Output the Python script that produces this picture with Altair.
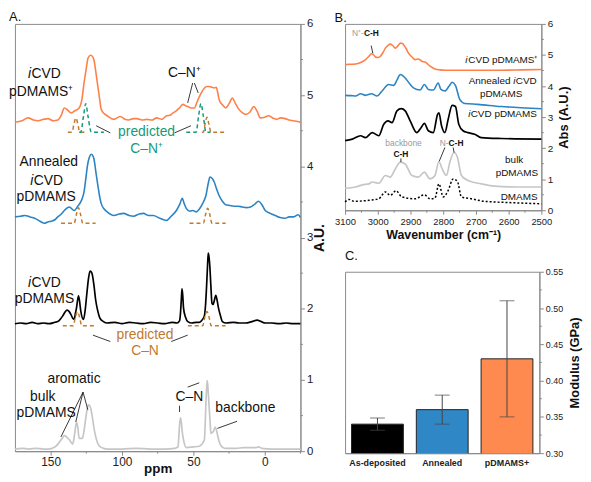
import altair as alt
import pandas as pd

FONT = "Liberation Sans"
AX = "#8a8a8a"
LBL = "#222222"

ORANGE = "#ff8048"
BLUE = "#2b85c4"
GRAYL = "#c6c6c6"
GREEN = "#169a78"
BROWN = "#c27a2c"

# ---------------- Panel A : NMR spectra (ppm, A.U.) ----------------
A_OR_PPM = [175, 170, 165.8, 162, 158.8, 155, 151.9, 148, 145, 142.5, 140.4, 138, 135.8, 133, 130, 128, 126.6, 125, 123.8,
            121.9, 120.6, 119.6, 118.3, 116.9, 115.7, 114.6, 112.5, 110.4, 105.8, 101.2, 98, 95.4, 92, 89.6, 86, 82.7, 79,
            75.8, 72, 68.9, 66, 64.3, 62, 59.7, 57.3, 55.5, 53.9, 51.5, 49.3, 47.5, 45.8, 44, 42.3, 40.5, 38.9, 37, 35.4,
            34, 33, 32, 29.5, 27.4, 25, 22.7, 20.5, 18.1, 15.5, 13.5, 10.5, 7.7, 5.5, 3.1, 0, -2.6, -5.5, -8.4, -11,
            -14.2, -17, -19.9, -23, -25]
A_OR_VAL = [4.62, 4.64, 4.68, 4.65, 4.64, 4.66, 4.67, 4.64, 4.65, 4.72, 4.82, 4.79, 4.75, 4.78, 4.82, 4.95, 5.17, 5.38, 5.52,
            5.56, 5.54, 5.49, 5.32, 5.12, 4.95, 4.80, 4.74, 4.71, 4.66, 4.70, 4.66, 4.65, 4.67, 4.67, 4.65, 4.66, 4.65,
            4.68, 4.66, 4.71, 4.72, 4.75, 4.78, 4.82, 4.87, 4.85, 4.84, 4.82, 4.82, 4.90, 4.98, 5.05, 5.10, 5.12, 5.12,
            5.11, 5.10, 5.11, 5.04, 4.94, 4.86, 4.82, 4.88, 4.96, 4.88, 4.80, 4.75, 4.73, 4.76, 4.84, 4.78, 4.68, 4.69,
            4.71, 4.68, 4.66, 4.68, 4.67, 4.65, 4.64, 4.63, 4.62]

A_BL_PPM = [175, 171, 168.1, 164.5, 161.2, 157.5, 154.2, 152, 149.6, 147, 145, 142.5, 140.4, 136.9, 133.5, 131, 128.9, 127.5,
            126.6, 125.4, 124.2, 122.8, 121.5, 120.5, 119.6, 118.3, 116.9, 115.7, 114.6, 112.5, 110.4, 105.8, 102, 98.9,
            95, 91.9, 88, 85, 81.5, 78.1, 73.5, 68.9, 65.5, 61.9, 59.5, 57.8, 56.5, 55, 52.5, 50.4, 48, 45.8, 43.5, 41.2,
            39.5, 38.4, 36.8, 35.4, 33.7, 32, 29.7, 27.4, 24.5, 21.6, 18.7, 15.8, 13, 10, 7, 4.3, 2, -0.3, -3.8, -7.3,
            -10.7, -14.2, -17, -20, -23.4, -25]
A_BL_VAL = [3.29, 3.30, 3.31, 3.29, 3.27, 3.23, 3.20, 3.22, 3.23, 3.25, 3.29, 3.33, 3.38, 3.43, 3.38, 3.44, 3.50, 3.57,
            3.64, 3.82, 4.01, 4.13, 4.17, 4.15, 4.10, 3.92, 3.73, 3.58, 3.48, 3.40, 3.36, 3.31, 3.33, 3.34,
            3.31, 3.30, 3.33, 3.34, 3.31, 3.31, 3.27, 3.24, 3.30, 3.38, 3.47, 3.55, 3.48, 3.41, 3.37, 3.38, 3.36, 3.40,
            3.48, 3.59, 3.77, 3.85, 3.83, 3.78, 3.68, 3.59, 3.51, 3.46, 3.45, 3.44, 3.44, 3.43, 3.42, 3.43, 3.47, 3.51,
            3.46, 3.38, 3.34, 3.31, 3.28, 3.27, 3.29, 3.29, 3.32, 3.28]

A_BK_PPM = [175, 171, 167, 163, 159, 155, 151, 147, 145, 143, 141.5, 140, 138.5, 137, 135.8, 134.6, 133.5, 132.7, 131.9,
            130.5, 129.7, 128.9, 127, 125.8, 124.7, 123.5, 122.4, 121.6, 120.8, 119.6, 118.5, 117, 115.5, 113, 110.4,
            105, 100, 95, 90, 85, 80, 75, 70, 65, 61.5, 59.7, 59, 58.5, 58, 57.5, 56.9, 55.5, 53.9, 51, 48, 45.8, 44,
            42.3, 41.5, 40.7, 40.1, 39.6, 39, 38.4, 37.7, 37, 36.2, 35.4, 34.3, 33.4, 32.4, 31, 29.7, 27, 22, 18, 13.5,
            9, 5.4, 2.5, -0.3, -5, -10, -15, -20, -25]
A_BK_VAL = [1.79, 1.80, 1.79, 1.81, 1.79, 1.80, 1.79, 1.81, 1.82, 1.86, 1.90, 1.95, 1.98, 1.96, 1.92, 1.87, 1.85, 1.93,
            2.01, 2.18, 2.10, 1.97, 1.85, 1.98, 2.20, 2.42, 2.53, 2.52, 2.48, 2.32, 2.13, 1.97, 1.87, 1.82, 1.80,
            1.81, 1.79, 1.81, 1.80, 1.79, 1.81, 1.80, 1.79, 1.81, 1.80, 1.83, 1.95, 2.11, 2.28, 2.20, 2.01, 1.88, 1.82,
            1.80, 1.81, 1.81, 1.84, 1.90, 2.05, 2.34, 2.60, 2.78, 2.72, 2.57, 2.30, 2.08, 2.06, 2.11, 2.19, 2.12, 2.01,
            1.90, 1.82, 1.80, 1.81, 1.80, 1.80, 1.82, 1.84, 1.82, 1.80, 1.80, 1.79, 1.80, 1.79, 1.79]

A_GR_PPM = [175, 170, 165, 160, 155, 151.9, 149, 146.2, 144.5, 142.7, 141.3, 140.4, 139, 136.9, 134.6, 133.8, 133, 131.9,
            131, 130, 127.7, 126.5, 125.4, 124.5, 123.6, 122.7, 121.9, 120.8, 119.6, 118, 116.2, 113, 110, 100, 90, 80,
            70, 63, 60.8, 60.2, 59.7, 59, 58.4, 57.8, 56.5, 55, 50, 45.8, 44, 42.3, 41.7, 41.2, 40.6, 40.3, 39.7, 38.9,
            38.2, 37.7, 36.8, 35.9, 34.7, 33.9, 33.1, 32, 30.8, 28, 20, 15, 10, 6, 4.3, 2, -5, -15, -25]
A_GR_VAL = [0.03, 0.04, 0.03, 0.04, 0.03, 0.03, 0.04, 0.07, 0.11, 0.16, 0.20, 0.22, 0.20, 0.16, 0.10, 0.16, 0.27, 0.41,
            0.34, 0.18, 0.18, 0.30, 0.46, 0.58, 0.65, 0.64, 0.60, 0.48, 0.32, 0.17, 0.08, 0.04, 0.03, 0.03, 0.04, 0.03,
            0.03, 0.04, 0.06, 0.20, 0.37, 0.47, 0.40, 0.27, 0.12, 0.05, 0.06, 0.07, 0.10, 0.16, 0.40, 0.69, 0.92, 0.99,
            0.86, 0.60, 0.38, 0.25, 0.26, 0.28, 0.34, 0.30, 0.23, 0.14, 0.08, 0.04, 0.04, 0.05, 0.05, 0.05, 0.06, 0.04,
            0.03, 0.03, 0.03]

# predicted peaks (dashed)
PRED_ID = ["o_b1", "o_g1", "o_g2", "o_b2", "b_b1", "b_b2", "k_b1", "k_b2"]
PRED_KIND = ["C-N", "C-N+", "C-N+", "C-N", "C-N", "C-N", "C-N", "C-N"]
PRED_PPM = [
    [138.0, 135.0, 133.6, 132.3, 131.0, 129.6, 126.0],
    [130.0, 128.9, 127.0, 125.4, 123.8, 121.5, 112.7],
    [55.0, 48.1, 46.4, 44.7, 43.0, 41.2, 38.0],
    [44.0, 43.0, 41.8, 40.5, 39.2, 37.7, 27.4],
    [142.7, 133.5, 132.0, 130.5, 129.0, 127.5, 118.5],
    [52.7, 43.0, 41.5, 40.0, 38.5, 37.0, 27.4],
    [141.5, 134.2, 132.7, 131.2, 129.7, 128.2, 118.5],
    [53.9, 43.5, 42.0, 40.5, 39.0, 37.5, 27.4],
]
PRED_VAL = [
    [4.48, 4.48, 4.60, 4.68, 4.60, 4.48, 4.48],
    [4.48, 4.48, 4.70, 4.88, 4.70, 4.48, 4.48],
    [4.48, 4.48, 4.70, 4.88, 4.70, 4.48, 4.48],
    [4.48, 4.48, 4.60, 4.69, 4.60, 4.48, 4.48],
    [3.20, 3.20, 3.32, 3.42, 3.32, 3.20, 3.20],
    [3.20, 3.20, 3.32, 3.41, 3.32, 3.20, 3.20],
    [1.76, 1.76, 1.88, 1.96, 1.88, 1.76, 1.76],
    [1.76, 1.76, 1.88, 1.96, 1.88, 1.76, 1.76],
]

# leader lines in A
A_LN_X1 = [50.5, 49.3, 118.1, 63.2, 120.4, 65.5, 127.3, 127.3, 127.3, 59.7, 54.0, 33.2]
A_LN_Y1 = [5.17, 5.17, 4.57, 4.47, 1.63, 1.54, 0.83, 0.83, 0.83, 0.64, 0.90, 0.32]
A_LN_X2 = [54.0, 46.6, 108.2, 51.7, 108.2, 54.0, 142.8, 132.4, 123.9, 59.7, 45.9, 19.4]
A_LN_Y2 = [4.89, 5.03, 4.47, 4.57, 1.54, 1.63, 0.20, 0.41, 0.58, 0.55, 0.96, 0.42]

# labels in A
A_TX_PPM = [156.6, 151.3, 153.2, 154.3, 155.5, 153.2, 133.6, 52.8, 13.6, 56.3]
A_TX_VAL = [5.05, 4.06, 3.57, 2.13, 0.76, 0.53, 1.02, 0.76, 0.60, 5.31]
A_TX = ["pDMAMS⁺", "Annealed", "pDMAMS", "pDMAMS", "bulk", "pDMAMS", "aromatic", "C–N", "backbone", "C–N⁺"]
A_ICVD_PPM = [165.9, 164.2, 165.9]
A_ICVD_VAL = [5.30, 3.80, 2.36]
A_GREEN_TX = ["predicted", "C–N⁺"]
A_GREEN_PPM = [82.8, 82.8]
A_GREEN_VAL = [4.48, 4.24]
A_BROWN_TX = ["predicted", "C–N"]
A_BROWN_PPM = [83.9, 83.9]
A_BROWN_VAL = [1.63, 1.41]

# ---------------- Panel B : FTIR ----------------
B_OR_WN = [3100, 3085, 3067.7, 3052, 3037.4, 3027, 3019.2, 3012, 3007.1, 2999, 2991.9, 2984, 2976.8, 2968, 2961.6, 2954,
           2946.5, 2938, 2931.3, 2925, 2921.2, 2913, 2906.1, 2895, 2885.9, 2875.8, 2865.7, 2853.5, 2840.4, 2825.3, 2810,
           2794.9, 2760, 2724.2, 2680, 2623.2, 2560, 2500]
B_OR = [4.69, 4.70, 4.71, 4.76, 4.85, 4.96, 5.04, 5.00, 4.93, 4.92, 4.96, 5.08, 5.22, 5.32, 5.35, 5.30,
        5.22, 5.30, 5.38, 5.37, 5.33, 5.20, 5.06, 4.93, 4.85, 4.87, 4.80, 4.76, 4.64, 4.55, 4.52,
        4.51, 4.51, 4.51, 4.51, 4.51, 4.52, 4.53]
B_BL_WN = [3100, 3080, 3067.7, 3052.5, 3037.4, 3019.2, 3002, 2986.9, 2966.7, 2951.5, 2941, 2931.3, 2916.2, 2903, 2890.9,
           2870.7, 2857.6, 2845.5, 2830.3, 2815.2, 2807.1, 2794.9, 2781.8, 2772.7, 2762.6, 2749.5, 2734.3, 2693.9, 2623.2,
           2562.6, 2500]
B_BL = [3.70, 3.69, 3.68, 3.75, 3.70, 3.75, 3.68, 3.84, 4.05, 4.02, 4.20, 4.37, 4.26, 4.08, 3.94,
        3.87, 4.05, 3.89, 3.87, 4.10, 3.89, 3.84, 4.00, 4.12, 4.02, 3.57, 3.44, 3.41, 3.34,
        3.30, 3.27]
B_BK_WN = [3100, 3077.8, 3052.5, 3037.4, 3017.2, 2997, 2981.8, 2968.7, 2956.6, 2941.4, 2928.3, 2916.2, 2901, 2880.8,
           2867.7, 2857.6, 2845.5, 2830.3, 2817.2, 2813.1, 2805.1, 2794.9, 2784.8, 2772.7, 2762.6, 2752.5, 2739.4,
           2724.2, 2704, 2683.8, 2623.2, 2500]
B_BK = [2.24, 2.29, 2.40, 2.34, 2.50, 2.40, 2.77, 2.88, 2.82, 3.20, 3.27, 3.20, 2.88, 2.50,
        2.66, 2.80, 2.56, 2.50, 3.09, 3.14, 2.72, 2.50, 2.93, 3.38, 3.34, 2.77, 2.56,
        2.50, 2.45, 2.34, 2.31, 2.29]
B_GR_WN = [3100, 3067.7, 3047.5, 3027.3, 3017.2, 2997, 2976.8, 2961.6, 2946.5, 2931.3, 2916.2, 2895.9, 2875.8, 2857.6,
           2840.4, 2825.3, 2813.1, 2803, 2789.9, 2779.8, 2766.7, 2756.6, 2744.4, 2724.2, 2683.8, 2643.4, 2572.7, 2500]
B_GR = [0.71, 0.75, 0.82, 0.85, 0.91, 0.87, 1.12, 1.07, 1.33, 1.55, 1.49, 1.12, 1.07, 1.23,
        1.01, 1.12, 1.57, 1.33, 1.12, 1.55, 1.86, 1.71, 1.12, 0.96, 0.85, 0.78, 0.75, 0.75]
B_DM_WN = [3100, 3087.9, 3072.7, 3027.3, 2997, 2976.8, 2961.6, 2944.4, 2926.3, 2885.9, 2857.6, 2840.4, 2825.3, 2813.1,
           2800, 2784.8, 2769.7, 2756.6, 2744.4, 2714.1, 2673.7, 2603, 2500]
B_DM = [0.27, 0.35, 0.29, 0.32, 0.37, 0.59, 0.48, 0.63, 0.43, 0.37, 0.50, 0.37, 0.39, 0.85,
        0.43, 0.64, 1.01, 0.93, 0.43, 0.37, 0.29, 0.25, 0.21]

B_LN_X1 = [3020.2, 2929.3, 2794.9, 2769.7]
B_LN_Y1 = [5.30, 1.67, 2.02, 2.02]
B_LN_X2 = [3015.2, 2929.3, 2812.1, 2766.7]
B_LN_Y2 = [5.06, 1.55, 1.58, 1.86]

# ---------------- Panel C : modulus ----------------
C_CAT = ["As-deposited", "Annealed", "pDMAMS+"]
C_MOD = [0.340, 0.360, 0.430]
C_LOW = [0.3315, 0.340, 0.350]
C_HIGH = [0.3485, 0.380, 0.510]
C_COL = ["#000000", "#2f87c6", "#ff8a50"]

# tick positions
A_XTICKS = [150, 100, 50, 0]
A_XMINOR = [125, 75, 25, -25]
A_YTICKS = [0, 1, 2, 3, 4, 5, 6]
A_YMINOR = [0.5, 1.5, 2.5, 3.5, 4.5, 5.5]
B_XTICKS = [3100, 3000, 2900, 2800, 2700, 2600, 2500]
B_XMINOR = [3050, 2950, 2850, 2750, 2650, 2550]
B_YTICKS = [0, 1, 2, 3, 4, 5, 6]
B_YMINOR = [0.5, 1.5, 2.5, 3.5, 4.5, 5.5]
C_YTICKS = [0.30, 0.35, 0.40, 0.45, 0.50, 0.55]
C_YMINOR = [0.325, 0.375, 0.425, 0.475, 0.525]

WA, HA = 288, 431
WB, HB = 198, 188
WC, HC = 196, 183

# ====================================================================
xA = alt.Scale(domain=[175, -25], nice=False, zero=False)
yA = alt.Scale(domain=[0, 6], nice=False, zero=False)
xB = alt.Scale(domain=[3100, 2500], nice=False, zero=False)
yB = alt.Scale(domain=[0, 6], nice=False, zero=False)
yC = alt.Scale(domain=[0.30, 0.55], nice=False, zero=False)
xCs = alt.Scale(domain=C_CAT, paddingInner=0.2, paddingOuter=0.1)

common = dict(grid=False, domainColor=AX, tickColor=AX, labelColor=LBL, labelFont=FONT, titleFont=FONT,
              titleColor="#111111", titleFontWeight="bold", labelOverlap=False, labelFlush=False)

axAx = alt.Axis(values=A_XTICKS, format="d", title="ppm", labelFontSize=12, titleFontSize=13.5, tickSize=4,
                labelPadding=1, titlePadding=-5, **common)
axAy = alt.Axis(orient="right", values=A_YTICKS, format="d", title="A.U.", titleAngle=270, titleBaseline="top",
                labelFontSize=11.5, titleFontSize=14, tickSize=4, labelPadding=2, titlePadding=0, **common)
axBx = alt.Axis(values=B_XTICKS, format="d", title="Wavenumber (cm⁻¹)", labelFontSize=9.5, titleFontSize=12.5,
                tickSize=4, labelPadding=2, titlePadding=3, **common)
axBy = alt.Axis(orient="right", values=B_YTICKS, format="d", title="Abs (A.U.)", titleAngle=270,
                titleBaseline="top", labelFontSize=10, titleFontSize=13, tickSize=4, labelPadding=2,
                titlePadding=5, **common)
axCx = alt.Axis(title=None, labelAngle=0, labelFontSize=9, labelFontWeight="bold", ticks=False, labelPadding=5,
                **common)
axCy = alt.Axis(orient="right", values=C_YTICKS, format=".2f", title="Modulus (GPa)", titleAngle=270,
                titleBaseline="top", labelFontSize=9, titleFontSize=13, tickSize=4, labelPadding=2, titlePadding=6,
                **common)

PANEL = {
    "A": ("ppm", "val", xA, yA, axAx, axAy, WA, HA),
    "B": ("wn", "abs", xB, yB, axBx, axBy, WB, HB),
}


def enc_xy(panel):
    xn, yn, xs, ys, ax, ay = PANEL[panel][:6]
    return dict(x=alt.X(f"{xn}:Q", scale=xs, axis=ax), y=alt.Y(f"{yn}:Q", scale=ys, axis=ay))


def curve(panel, xs, ys, color, width=1.6, dash=None):
    xn, yn = PANEL[panel][:2]
    df = pd.DataFrame({xn: xs, yn: ys, "idx": list(range(len(xs)))})
    kw = dict(color=color, strokeWidth=width, interpolate="monotone")
    if dash:
        kw["strokeDash"] = dash
    return alt.Chart(df).mark_line(**kw).encode(order="idx:Q", **enc_xy(panel))


def pred_layer(kind, color):
    rows = []
    for pid, k, pp, vv in zip(PRED_ID, PRED_KIND, PRED_PPM, PRED_VAL):
        if k != kind:
            continue
        for i, (p, v) in enumerate(zip(pp, vv)):
            rows.append({"ppm": p, "val": v, "pid": pid, "idx": i})
    return alt.Chart(pd.DataFrame(rows)).mark_line(
        color=color, strokeWidth=1.5, strokeDash=[4, 3], interpolate="monotone"
    ).encode(detail="pid:N", order="idx:Q", **enc_xy("A"))


def texts(panel, xs, ys, labels, **kw):
    xn, yn = PANEL[panel][:2]
    df = pd.DataFrame({xn: xs, yn: ys, "label": labels})
    base = dict(font=FONT, baseline="middle", color="#111111")
    base.update(kw)
    return alt.Chart(df).mark_text(**base).encode(text="label:N", **enc_xy(panel))


def rules(panel, x1, y1, x2, y2, color="#222222", width=0.9):
    xn, yn = PANEL[panel][:2]
    df = pd.DataFrame({xn: x1, yn: y1, "x2v": x2, "y2v": y2})
    return alt.Chart(df).mark_rule(color=color, strokeWidth=width).encode(
        x2="x2v:Q", y2="y2v:Q", **enc_xy(panel))


def minor_x(panel, vals):
    xn, yn, xs, ys, ax, ay, w, h = PANEL[panel]
    df = pd.DataFrame({xn: vals})
    return alt.Chart(df).mark_rule(color=AX, strokeWidth=1).encode(
        x=alt.X(f"{xn}:Q", scale=xs, axis=ax), y=alt.value(h), y2=alt.value(h + 2.5))


def minor_y(panel, vals):
    xn, yn, xs, ys, ax, ay, w, h = PANEL[panel]
    df = pd.DataFrame({yn: vals})
    return alt.Chart(df).mark_rule(color=AX, strokeWidth=1).encode(
        y=alt.Y(f"{yn}:Q", scale=ys, axis=ay), x=alt.value(w), x2=alt.value(w + 2.5))


def title(t, offset=0):
    return alt.TitleParams(t, anchor="start", fontSize=13, fontWeight="normal", font=FONT, offset=offset,
                           color="#111111")


# ---- Panel A ----
panelA = alt.layer(
    curve("A", A_GR_PPM, A_GR_VAL, GRAYL, 1.7),
    curve("A", A_BK_PPM, A_BK_VAL, "#000000", 1.7),
    curve("A", A_BL_PPM, A_BL_VAL, BLUE, 1.6),
    curve("A", A_OR_PPM, A_OR_VAL, ORANGE, 1.6),
    pred_layer("C-N", BROWN),
    pred_layer("C-N+", GREEN),
    rules("A", A_LN_X1, A_LN_Y1, A_LN_X2, A_LN_Y2),
    minor_x("A", A_XMINOR),
    minor_y("A", A_YMINOR),
    texts("A", A_TX_PPM, A_TX_VAL, A_TX, fontSize=14, align="center"),
    texts("A", A_ICVD_PPM, A_ICVD_VAL, ["i"] * 3, fontSize=14, align="left", fontStyle="italic"),
    texts("A", A_ICVD_PPM, A_ICVD_VAL, ["CVD"] * 3, fontSize=14, align="left", dx=3.5),
    texts("A", A_GREEN_PPM, A_GREEN_VAL, A_GREEN_TX, fontSize=14, align="center", color=GREEN),
    texts("A", A_BROWN_PPM, A_BROWN_VAL, A_BROWN_TX, fontSize=14, align="center", color=BROWN),
).properties(width=WA, height=HA, title=title("A.", offset=-6))

# ---- Panel B ----
panelB = alt.layer(
    curve("B", B_DM_WN, B_DM, "#000000", 1.5, dash=[2, 2]),
    curve("B", B_GR_WN, B_GR, GRAYL, 1.7),
    curve("B", B_BK_WN, B_BK, "#000000", 1.7),
    curve("B", B_BL_WN, B_BL, BLUE, 1.6),
    curve("B", B_OR_WN, B_OR, ORANGE, 1.6),
    rules("B", B_LN_X1, B_LN_Y1, B_LN_X2, B_LN_Y2),
    minor_x("B", B_XMINOR),
    minor_y("B", B_YMINOR),
    texts("B", [2512, 2514, 2514], [4.85, 4.16, 3.09], ["CVD pDMAMS⁺", "CVD", "CVD pDMAMS"], fontSize=10,
          align="right"),
    texts("B", [2512], [4.85], ["i"], fontSize=10, align="right", dx=-70.5, fontStyle="italic"),
    texts("B", [2514], [4.16], ["i"], fontSize=10, align="right", dx=-21.5, fontStyle="italic"),
    texts("B", [2514], [3.09], ["i"], fontSize=10, align="right", dx=-67, fontStyle="italic"),
    texts("B", [2514], [4.16], ["Annealed"], fontSize=10, align="right", dx=-26.5),
    texts("B", [2623, 2583, 2575, 2568], [3.73, 1.62, 1.20, 0.43], ["pDMAMS", "bulk", "pDMAMS", "DMAMS"],
          fontSize=10, align="center"),
    texts("B", [3042.4, 2783.8], [5.70, 2.16], ["N⁺-", "N-"], fontSize=8.5, align="right", color="#9a9a9a"),
    texts("B", [3042.4, 2783.8], [5.70, 2.16], ["C-H", "C-H"], fontSize=8.5, align="left", fontWeight="bold"),
    texts("B", [2921.2], [2.18], ["backbone"], fontSize=8.5, align="center", color="#9a9a9a"),
    texts("B", [2929.3], [1.80], ["C-H"], fontSize=8.5, align="center", fontWeight="bold"),
).properties(width=WB, height=HB, title=title("B.", offset=-6))

# ---- Panel C ----
c_df = pd.DataFrame({"sample": C_CAT, "modulus": C_MOD, "low": C_LOW, "high": C_HIGH})
cx = alt.X("sample:N", sort=C_CAT, scale=xCs, axis=axCx)
bars = alt.Chart(c_df).mark_bar(stroke="#222222", strokeWidth=1, clip=True).encode(
    x=cx,
    y=alt.Y("modulus:Q", scale=yC, axis=axCy),
    color=alt.Color("sample:N", scale=alt.Scale(domain=C_CAT, range=C_COL), legend=None),
)
err = alt.Chart(c_df).mark_rule(color="#444444", strokeWidth=1).encode(
    x=cx, y=alt.Y("low:Q", scale=yC, axis=axCy), y2="high:Q")
cap_lo = alt.Chart(c_df).mark_tick(color="#444444", thickness=1, size=15).encode(
    x=cx, y=alt.Y("low:Q", scale=yC, axis=axCy))
cap_hi = alt.Chart(c_df).mark_tick(color="#444444", thickness=1, size=15).encode(
    x=cx, y=alt.Y("high:Q", scale=yC, axis=axCy))
c_minor = alt.Chart(pd.DataFrame({"modulus": C_YMINOR})).mark_rule(color=AX, strokeWidth=1).encode(
    y=alt.Y("modulus:Q", scale=yC, axis=axCy), x=alt.value(WC), x2=alt.value(WC + 2.5))

panelC = alt.layer(bars, err, cap_lo, cap_hi, c_minor).properties(width=WC, height=HC,
                                                                  title=title("C.", offset=5))

right = alt.vconcat(panelB, panelC, spacing=7)
chart = alt.hconcat(panelA, right, spacing=6).properties(
    padding=0, background="white"
).configure_view(stroke=AX, strokeWidth=1)

chart.save("out.html", embed_options={"renderer": "svg", "actions": False})
